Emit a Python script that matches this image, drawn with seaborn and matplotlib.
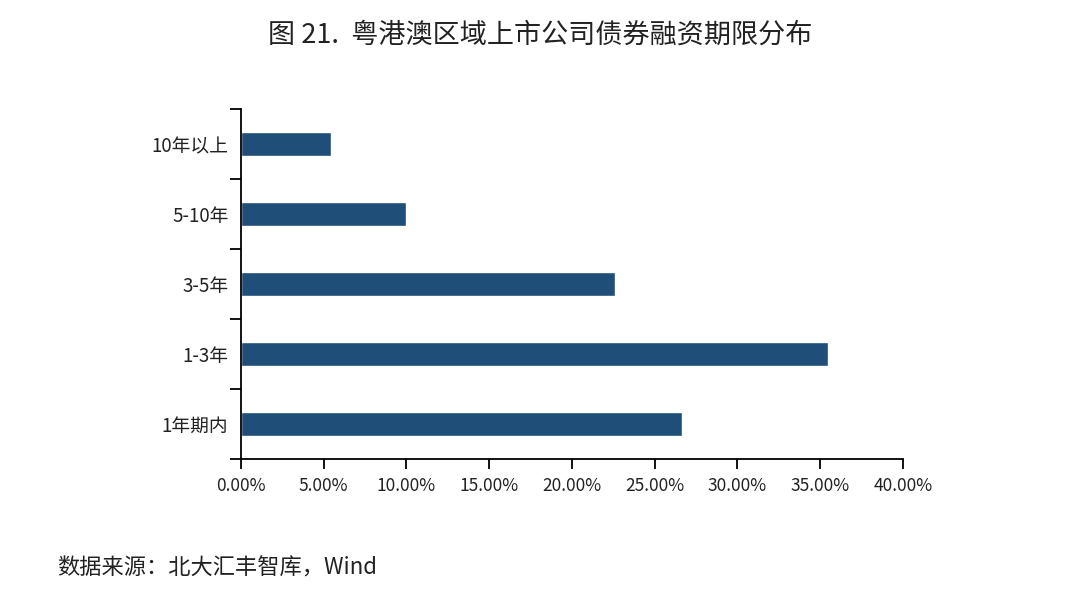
import matplotlib
matplotlib.use("Agg")
import matplotlib.pyplot as plt
import seaborn as sns
import pandas as pd
from matplotlib.ticker import FuncFormatter, FixedLocator

# 数据
terms = ["10年以上", "5-10年", "3-5年", "1-3年", "1年期内"]
shares = [0.0544, 0.0997, 0.2257, 0.3549, 0.2665]
x_ticks = [0.0, 0.05, 0.10, 0.15, 0.20, 0.25, 0.30, 0.35, 0.40]

df = pd.DataFrame({"期限": terms, "占比": shares})

sns.set_style("white")
plt.rcParams["font.family"] = ["Noto Sans CJK SC", "DejaVu Sans"]

fig = plt.figure(figsize=(10.8, 6.11), dpi=100)
ax = fig.add_axes([0.2231, 0.2488, 0.613, 0.5728])

sns.barplot(data=df, x="占比", y="期限", order=terms, color="#1F4E79",
            saturation=1, width=0.35, orient="h", ax=ax)

ax.set_xlim(0, 0.40)
ax.set_ylim(len(terms) - 0.5, -0.5)
ax.xaxis.set_major_locator(FixedLocator(x_ticks))
ax.xaxis.set_major_formatter(FuncFormatter(lambda v, p: f"{v * 100:.2f}%"))
ax.set_yticks(range(len(terms)))
ax.set_yticks([i - 0.5 for i in range(len(terms) + 1)], minor=True)

ax.tick_params(axis="y", which="major", left=True, length=0, pad=9,
               labelsize=13.5, colors="#222222")
ax.tick_params(axis="y", which="minor", left=True, length=8, width=1.3,
               direction="out", color="black")
ax.tick_params(axis="x", which="major", bottom=True, length=7, width=1.3,
               direction="out", color="black", labelsize=12.5,
               labelcolor="#222222", pad=6)

for s in ["top", "right"]:
    ax.spines[s].set_visible(False)
for s in ["left", "bottom"]:
    ax.spines[s].set_color("black")
    ax.spines[s].set_linewidth(1.3)

ax.set_xlabel("")
ax.set_ylabel("")

fig.text(0.5, 0.943, "图 21.  粤港澳区域上市公司债券融资期限分布", ha="center", va="center",
         fontsize=19.5, color="#222222")
fig.text(0.053, 0.07, "数据来源：北大汇丰智库，Wind", ha="left", va="center",
         fontsize=16, color="#222222")

fig.savefig("out.png", dpi=100)
